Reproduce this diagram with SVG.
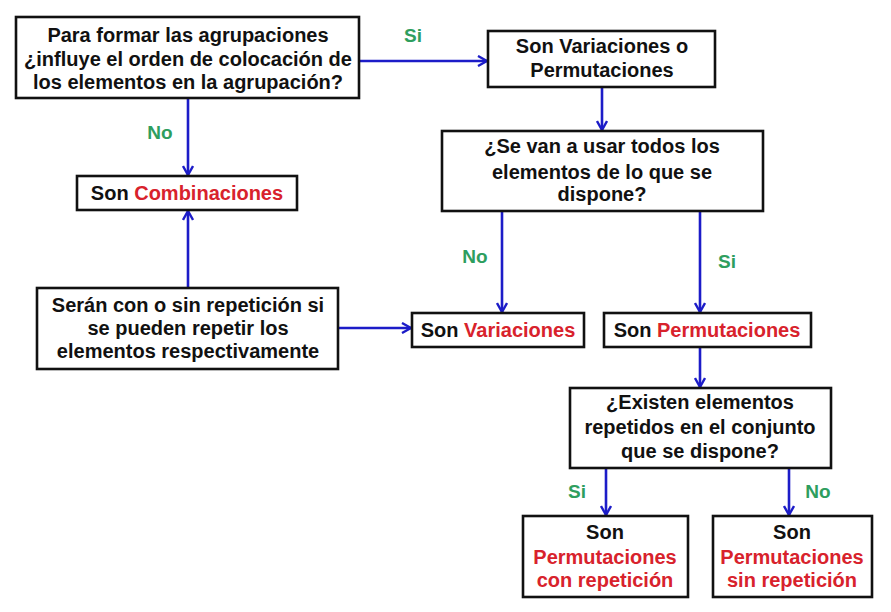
<svg xmlns="http://www.w3.org/2000/svg" width="891" height="612" viewBox="0 0 891 612">
<defs>
<marker id="ah" viewBox="0 0 12 12" refX="11" refY="6" markerWidth="12" markerHeight="12" markerUnits="userSpaceOnUse" orient="auto">
<path d="M2,1 L11,6 L2,11" fill="none" stroke="#1c1cc8" stroke-width="2.4"/>
</marker>
</defs>
<style>
.box{fill:#fff;stroke:#111;stroke-width:2.6}
.t{font-family:"Liberation Sans",Arial,sans-serif;font-weight:bold;font-size:20px;fill:#111;text-anchor:middle}
.r{fill:#d8222c}
.g{font-family:"Liberation Sans",Arial,sans-serif;font-weight:bold;font-size:19px;fill:#2e9e5e;text-anchor:middle}
.c{fill:none;stroke:#1c1cc8;stroke-width:2.6;marker-end:url(#ah)}
</style>
<rect width="891" height="612" fill="#fff"/>
<g id="connectors">
<line class="c" x1="359" y1="61" x2="487" y2="61"/>
<line class="c" x1="188" y1="98" x2="188" y2="175"/>
<line class="c" x1="188" y1="288" x2="188" y2="211"/>
<line class="c" x1="338" y1="328" x2="411" y2="328"/>
<line class="c" x1="602" y1="87" x2="602" y2="130"/>
<line class="c" x1="502" y1="211" x2="502" y2="312"/>
<line class="c" x1="700" y1="211" x2="700" y2="312"/>
<line class="c" x1="700" y1="347" x2="700" y2="387"/>
<line class="c" x1="606" y1="468" x2="606" y2="515"/>
<line class="c" x1="789" y1="468" x2="789" y2="515"/>
<text class="g" x="413" y="42">Si</text>
<text class="g" x="160" y="139">No</text>
<text class="g" x="475" y="263">No</text>
<text class="g" x="727" y="268">Si</text>
<text class="g" x="577" y="498">Si</text>
<text class="g" x="818" y="498">No</text>
</g>
<g id="n1">
<rect class="box" x="16" y="17" width="343" height="81"/>
<text class="t" x="188" y="42">Para formar las agrupaciones</text>
<text class="t" x="188" y="66">¿influye el orden de colocación de</text>
<text class="t" x="188" y="89">los elementos en la agrupación?</text>
</g>
<g id="n2">
<rect class="box" x="488" y="31" width="227" height="56"/>
<text class="t" x="602" y="53">Son Variaciones o</text>
<text class="t" x="602" y="77">Permutaciones</text>
</g>
<g id="n3">
<rect class="box" x="77" y="176" width="220" height="34"/>
<text class="t" x="187" y="200">Son <tspan class="r">Combinaciones</tspan></text>
</g>
<g id="n4">
<rect class="box" x="442" y="131" width="321" height="80"/>
<text class="t" x="602" y="153">¿Se van a usar todos los</text>
<text class="t" x="602" y="179">elementos de lo que se</text>
<text class="t" x="602" y="201">dispone?</text>
</g>
<g id="n5">
<rect class="box" x="37" y="288" width="301" height="81"/>
<text class="t" x="188" y="312">Serán con o sin repetición si</text>
<text class="t" x="188" y="335">se pueden repetir los</text>
<text class="t" x="188" y="358">elementos respectivamente</text>
</g>
<g id="n6">
<rect class="box" x="412" y="313" width="172" height="34"/>
<text class="t" x="498" y="337">Son <tspan class="r">Variaciones</tspan></text>
</g>
<g id="n7">
<rect class="box" x="604" y="313" width="207" height="34"/>
<text class="t" x="707" y="337">Son <tspan class="r">Permutaciones</tspan></text>
</g>
<g id="n8">
<rect class="box" x="570" y="388" width="261" height="80"/>
<text class="t" x="700" y="409">¿Existen elementos</text>
<text class="t" x="700" y="434">repetidos en el conjunto</text>
<text class="t" x="700" y="458">que se dispone?</text>
</g>
<g id="n9">
<rect class="box" x="523" y="516" width="165" height="81"/>
<text class="t" x="605" y="539">Son</text>
<text class="t r" x="605" y="564">Permutaciones</text>
<text class="t r" x="605" y="587">con repetición</text>
</g>
<g id="n10">
<rect class="box" x="713" y="516" width="159" height="81"/>
<text class="t" x="792" y="539">Son</text>
<text class="t r" x="792" y="564">Permutaciones</text>
<text class="t r" x="792" y="587">sin repetición</text>
</g>
</svg>
